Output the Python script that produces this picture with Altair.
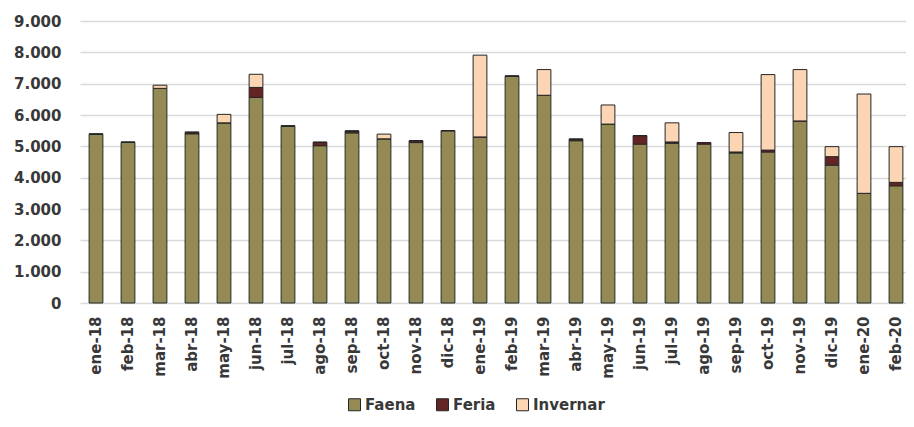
import altair as alt
import pandas as pd

months = ["ene-18", "feb-18", "mar-18", "abr-18", "may-18", "jun-18", "jul-18", "ago-18",
          "sep-18", "oct-18", "nov-18", "dic-18", "ene-19", "feb-19", "mar-19", "abr-19",
          "may-19", "jun-19", "jul-19", "ago-19", "sep-19", "oct-19", "nov-19", "dic-19",
          "ene-20", "feb-20"]
faena = [5390, 5130, 6850, 5400, 5750, 6560, 5650, 5020, 5430, 5240, 5120, 5500, 5300,
         7240, 6630, 5180, 5710, 5070, 5100, 5070, 4790, 4820, 5810, 4400, 3500, 3740]
feria = [0, 0, 0, 50, 0, 320, 0, 110, 60, 0, 60, 0, 0,
         0, 0, 50, 0, 270, 40, 50, 30, 60, 0, 270, 0, 110]
invernar = [0, 0, 100, 0, 270, 420, 0, 0, 0, 150, 0, 0, 2610,
            0, 820, 0, 610, 0, 610, 0, 620, 2410, 1640, 320, 3170, 1140]
series = ["Faena", "Feria", "Invernar"]
colors = ["#948A54", "#632523", "#FCD5B5"]

rows = []
for i, m in enumerate(months):
    for k, (s, vals) in enumerate(zip(series, [faena, feria, invernar])):
        rows.append({"mes": m, "serie": s, "valor": vals[i], "orden": k})
df = pd.DataFrame(rows)

FONT = "DejaVu Sans"
TXT = "#383838"
step = 32.0

chart = alt.Chart(df).mark_bar(stroke="#262626", strokeWidth=1).encode(
    x=alt.X("mes:N", sort=months, title=None,
            scale=alt.Scale(range=[0, step * len(months)], paddingInner=0.57, paddingOuter=0.285),
            axis=alt.Axis(labelAngle=270, labelAlign="right", labelBaseline="middle",
                          labelPadding=13, ticks=False, domain=False, grid=False,
                          labelFont=FONT, labelFontSize=15, labelFontWeight="bold",
                          labelColor=TXT)),
    y=alt.Y("valor:Q", title=None, stack="zero",
            scale=alt.Scale(domain=[0, 9000], nice=False),
            axis=alt.Axis(values=list(range(0, 9001, 1000)),
                          labelExpr="replace(format(datum.value, ',d'), ',', '.')",
                          ticks=False, domain=False, gridColor="#d9d9d9", gridWidth=1.5,
                          labelPadding=19, labelFont=FONT, labelFontSize=15,
                          labelFontWeight="bold", labelColor=TXT)),
    color=alt.Color("serie:N", sort=series, title=None,
                    scale=alt.Scale(domain=series, range=colors),
                    legend=alt.Legend(orient="none", direction="horizontal",
                                      legendX=267, legendY=376, padding=0,
                                      symbolType="square", symbolSize=144,
                                      symbolStrokeColor="#262626", symbolStrokeWidth=1,
                                      labelFont=FONT, labelFontSize=15, labelFontWeight="bold",
                                      labelColor=TXT, labelOffset=3, columnPadding=18)),
    order=alt.Order("orden:Q", sort="ascending"),
).properties(
    width=826, height=282,
    autosize=alt.AutoSizeParams(type="none"),
    padding={"left": 72, "top": 13, "right": 0, "bottom": 112},
).configure_view(stroke=None)

chart.save("out.html", embed_options={"renderer": "svg", "actions": False})
